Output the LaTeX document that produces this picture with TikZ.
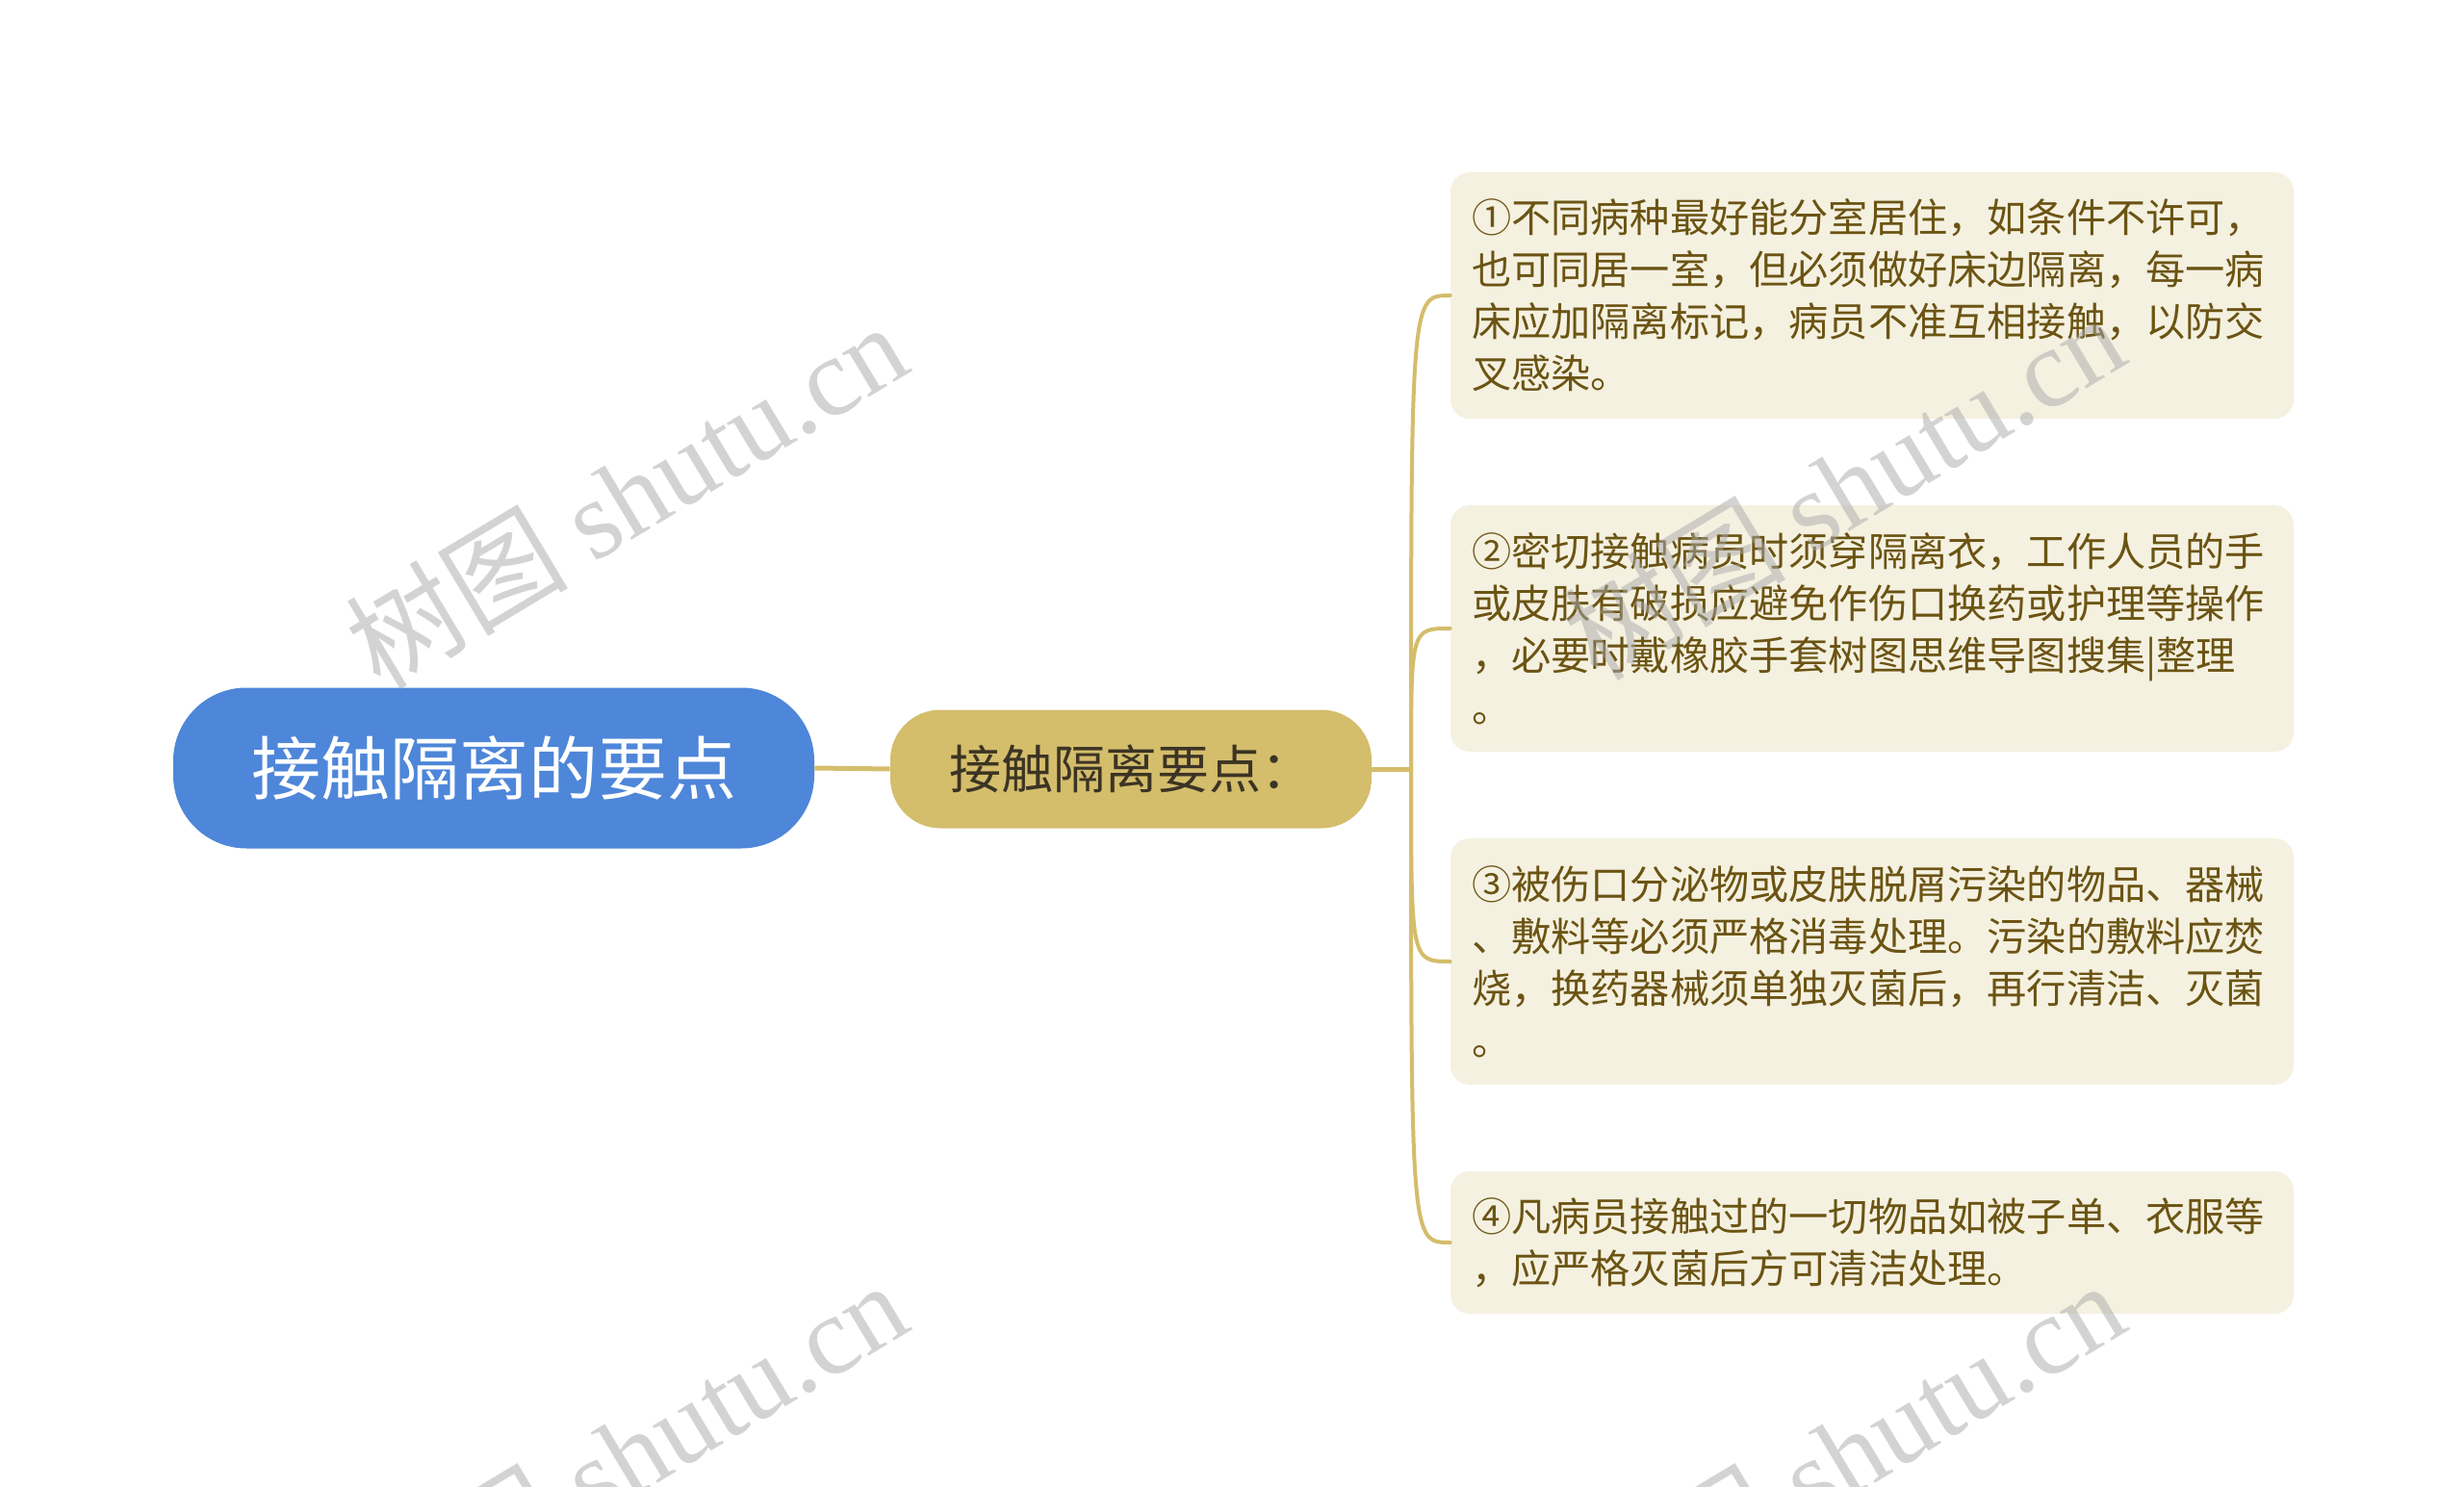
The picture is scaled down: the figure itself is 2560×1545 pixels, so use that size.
\documentclass[tikz,border=0pt]{standalone}
\usepackage{fontspec}
\setmainfont{Noto Sans CJK SC}
\newfontfamily\wmlatin{Liberation Serif}
\newfontfamily\wmcjk{Noto Sans CJK SC}
\definecolor{rootblue}{HTML}{4E86D9}
\definecolor{gold}{HTML}{D4BD6B}
\definecolor{midtext}{HTML}{3B3424}
\definecolor{cream}{HTML}{F5F1E1}
\definecolor{leaftext}{HTML}{6B5413}
\definecolor{wmgray}{HTML}{A8A8A8}
\begin{document}
\begin{tikzpicture}[x=0.5pt,y=-0.5pt,
  rootbox/.style={rectangle, rounded corners=38pt, fill=rootblue, minimum width=333pt, minimum height=83.5pt, inner sep=0pt, text=white, font=\fontsize{36pt}{40pt}\selectfont},
  midbox/.style={rectangle, rounded corners=26pt, fill=gold, minimum width=250pt, minimum height=61.5pt, inner sep=0pt, text=midtext, font=\fontsize{27pt}{30pt}\selectfont},
  leafbox/.style={rectangle, rounded corners=10pt, fill=cream, text width=416pt, align=left, inner xsep=11pt, inner ysep=2pt, text=leaftext, font=\fontsize{20.6pt}{27pt}\selectfont},
  link/.style={draw=gold, line width=2.5pt},
  curvelink/.style={draw=gold, line width=2pt},
  wmark/.style={text=wmgray, opacity=0.5, rotate=31, inner sep=0pt, font=\fontsize{58pt}{58pt}\selectfont}
]
\useasboundingbox (0,0) rectangle (2560,1545);
\fill[white] (0,0) rectangle (2560,1545);

\node[rootbox] (root) at (513,798) {接触隔离的要点};
\node[midbox] (mid) at (1175,799) {接触隔离要点：};

\node[leafbox, minimum height=128pt] (l1) at (1945,307) {①不同病种最好能分室居住，如条件不许可，\\也可同居一室，但必须做好床边隔离，每一病\\床应加隔离标记，病员不准互相接触，以防交\\叉感染。};
\node[leafbox, minimum height=128pt] (l2) at (1945,653) {②密切接触病员时须穿隔离衣，工作人员的手\\或皮肤有破损应避免作伤口换药或护理等操作\\，必要时戴橡胶手套树图思维导图搜集|整理\\。};
\node[leafbox, minimum height=128pt] (l3) at (1945,999) {③被伤口分泌物或皮肤脱屑污染的物品、器械\\、敷料等必须严格消毒处理。污染的敷料应焚\\烧，换药器械须单独灭菌后，再行清洁、灭菌\\。};
\node[leafbox, minimum height=74pt] (l4) at (1945,1291) {④凡病员接触过的一切物品如被子单、衣服等\\，应严格灭菌后方可清洁处理。};

\coordinate (br) at (1466,799);
\draw[link] (root.east) -- (mid.west);
\draw[link] (mid.east) -- (br);
\foreach \n in {l1,l2,l3,l4}{
  \draw[curvelink, line cap=round] (br) .. controls (br |- \n.west) .. (\n.west);
}

\begin{scope}
\clip (0,0) rectangle (2560,1545);
\node[wmark] (w1) at (650,514) {\wmcjk 树图 \wmlatin shutu.cn};
\node[wmark] (w2) at (1915,505) {\wmcjk 树图 \wmlatin shutu.cn};
\node[wmark] (w3) at (650,1510) {\wmcjk 树图 \wmlatin shutu.cn};
\node[wmark] (w4) at (1915,1510) {\wmcjk 树图 \wmlatin shutu.cn};
\end{scope}
\end{tikzpicture}
\end{document}
